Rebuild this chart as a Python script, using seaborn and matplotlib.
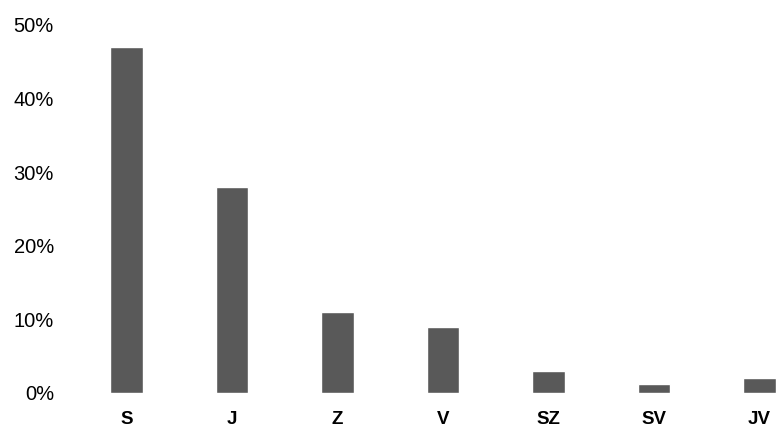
import pandas as pd
import seaborn as sns
from matplotlib import pyplot as plt
from matplotlib.ticker import PercentFormatter

categories = ["S", "J", "Z", "V", "SZ", "SV", "JV"]
shares = [0.47, 0.28, 0.11, 0.09, 0.03, 0.012, 0.021]

df = pd.DataFrame({"cat": categories, "share": shares})

sns.set_style("white")
plt.rcParams["font.family"] = ["Liberation Sans", "DejaVu Sans"]

fig = plt.figure(figsize=(7.76, 4.26), dpi=100)
# axis runs past the right edge, so the last bar is cut as in the reference
ax = fig.add_axes([73.75 / 776, 33 / 426, (776 - 73.75) / 776, 368 / 426])

sns.barplot(data=df, x="cat", y="share", color="#595959", saturation=1,
            width=0.31, ax=ax)

ax.set_xlim(-0.5, (776 - 126.5) / 105.5)
ax.set_ylim(0, 0.5)
ax.set_yticks([0, 0.1, 0.2, 0.3, 0.4, 0.5])
ax.yaxis.set_major_formatter(PercentFormatter(1.0, decimals=0))
ax.set_xlabel("")
ax.set_ylabel("")
for s in ax.spines.values():
    s.set_visible(False)
ax.tick_params(axis="y", length=0, pad=14.3, labelsize=14.5, colors="black")
ax.tick_params(axis="x", length=0, pad=13, labelsize=13.5, colors="black")
for lab in ax.get_xticklabels():
    lab.set_fontweight("bold")

fig.savefig("out.png", dpi=100)
